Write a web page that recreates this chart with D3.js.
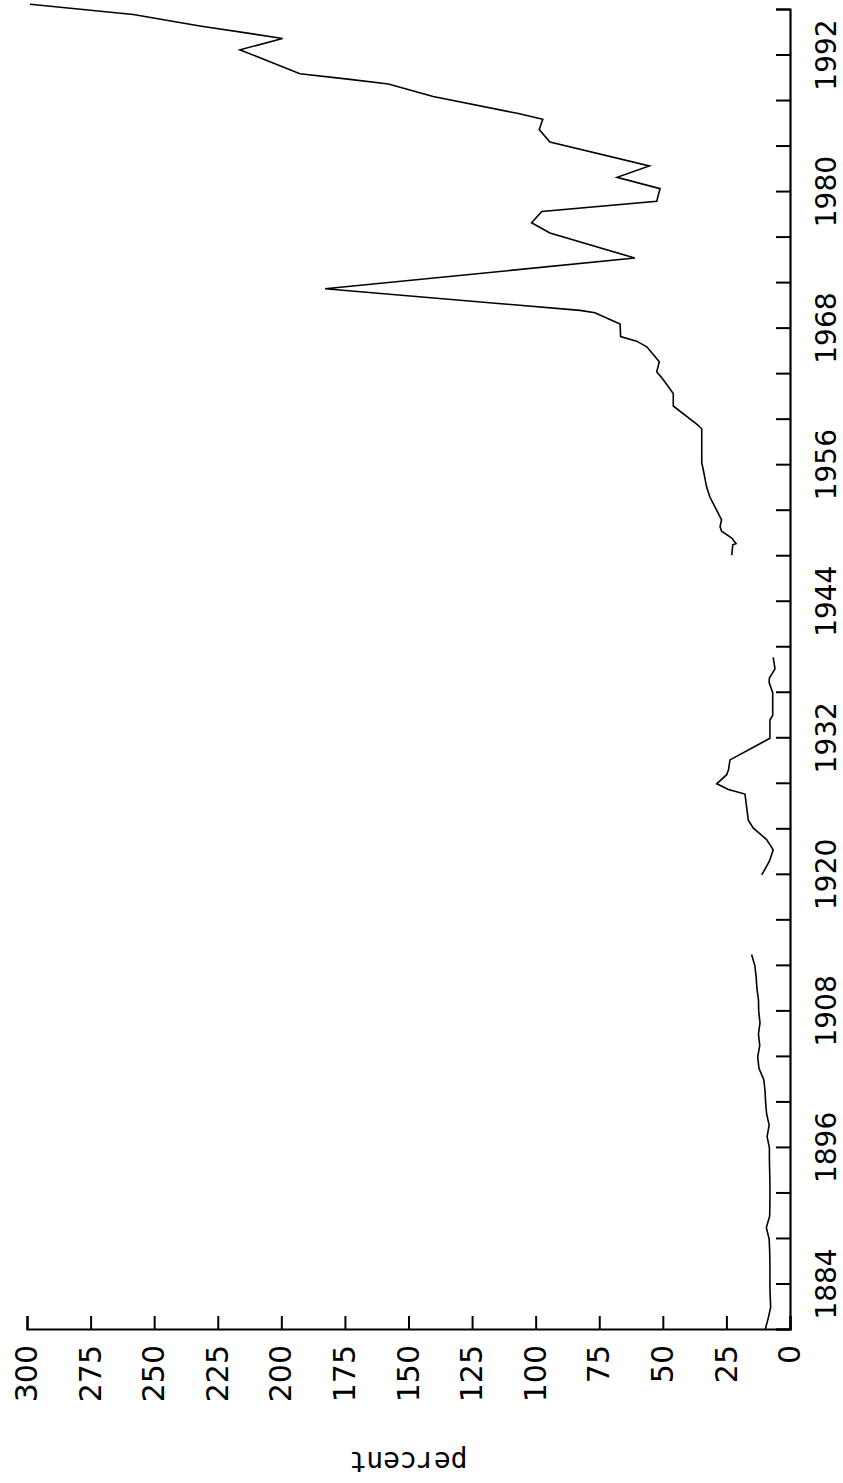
<!DOCTYPE html>
<html>
<head>
<meta charset="utf-8">
<script src="https://cdn.jsdelivr.net/npm/d3@7"></script>
<style>
  html, body { margin: 0; padding: 0; background: #fff; }
  svg { display: block; }
</style>
</head>
<body>
<div id="chart"></div>
<script>
// percent by year (null = gap in the record)
const years = [
  1880, 1881, 1882, 1883, 1884, 1885, 1886, 1887, 1888, 1889,
  1890, 1891, 1892, 1893, 1894, 1895, 1896, 1897, 1898, 1899,
  1900, 1901, 1902, 1903, 1904, 1905, 1906, 1907, 1908, 1909,
  1910, 1911, 1912, 1913,
  1916,
  1920.0, 1921.2, 1922.2, 1923.1, 1924.1, 1924.8, 1927.1, 1927.5, 1928.0, 1928.8,
  1929.2, 1930.1, 1932.0, 1933.6, 1934.0, 1936.0, 1936.9, 1937.3, 1938.1, 1939.1,
  1944,
  1948.1, 1949.0, 1949.1, 1949.6, 1950.2, 1950.6, 1951.2, 1953.2, 1954.1, 1955.6,
  1956.2, 1959.2, 1959.6, 1961.2, 1962.3, 1963.5, 1964.2, 1965.1, 1966.4, 1966.9,
  1967.3, 1968.4, 1968.8, 1969.4, 1969.6, 1971.5, 1974.2, 1976.4, 1977.3, 1978.3,
  1979.2, 1980.3, 1981.3, 1982.3, 1984.4, 1985.5, 1986.4, 1986.9, 1988.4, 1989.5,
  1989.9, 1990.4, 1992.5, 1993.5, 1994.6, 1995.6, 1996.5
];
const percent = [
  9.8, 8.6, 7.6, 7.8, 7.9, 7.9, 7.9, 8.0, 8.2, 9.3,
  8.0, 7.9, 7.9, 7.9, 8.0, 8.1, 8.1, 9.0, 8.2, 9.2,
  9.6, 9.8, 10.3, 12.2, 12.7, 11.9, 12.4, 11.8, 12.3, 12.4,
  13.0, 13.3, 13.8, 15.1,
  null,
  11.1, 8.1, 6.6, 9.2, 14.4, 16.4, 17.7, 24.2, 28.8, 24.9,
  24.2, 23.6, 7.9, 7.9, 6.8, 6.8, 8.2, 8.1, 5.9, 6.6,
  null,
  22.9, 22.5, 21.2, 22.9, 26.9, 27.5, 26.9, 31.5, 32.8, 34.1,
  34.7, 34.7, 36.7, 45.9, 45.9, 49.8, 52.4, 51.4, 56.3, 60.3,
  66.6, 66.8, 70.8, 76.7, 82.6, 182.8, 61.0, 94.4, 101.6, 97.6,
  52.4, 51.1, 68.0, 55.3, 94.4, 98.6, 97.2, 106.8, 140.3, 157.9,
  173.0, 192.7, 216.3, 199.5, 232.0, 258.2, 298.8
];

// axis ticks
const yearTicks = d3.range(1880, 1997, 4);
const yearLabels = d3.range(1884, 1993, 12);
const pctTicks = d3.range(0, 301, 25);

// page size; the chart is drawn in its own frame, then turned a quarter left
const [pageW, pageH] = [843, 1483];

const svg = d3.select('#chart')
    .append('svg')
    .attr('width', pageW)
    .attr('height', pageH);

const g = svg.append('g')
    .attr('transform', `translate(0 ${pageH}) rotate(-90)`);

const x = d3.scaleLinear().domain([1880, 1996]).range([153, 1473]);
const y = d3.scaleLinear().domain([0, 300]).range([790, 27]);

// year axis
const xAxis = d3.axisBottom(x)
    .tickValues(yearTicks)
    .tickSize(-14)
    .tickPadding(26)
    .tickFormat((d) => yearLabels.includes(d) ? d : '');

const gx = g.append('g')
    .attr('transform', `translate(0 ${y(0)})`)
    .call(xAxis);

// percent axis
const yAxis = d3.axisLeft(y)
    .tickValues(pctTicks)
    .tickSize(-14)
    .tickPadding(15);

const gy = g.append('g')
    .attr('transform', `translate(${x(1880)} 0)`)
    .call(yAxis);

gx.attr('font-size', 28);
gy.attr('font-size', 30);
[gx, gy].forEach((a) => {
    a.attr('font-family', '"DejaVu Sans", sans-serif');
    a.select('.domain').attr('stroke-width', 2.2);
    a.selectAll('.tick line').attr('stroke-width', 2);
    a.selectAll('.tick text').attr('fill', '#000');
});

// axis title
g.append('text')
    .attr('transform', `translate(31 ${(y(0) + y(300)) / 2}) rotate(-90)`)
    .attr('text-anchor', 'middle')
    .attr('font-family', '"DejaVu Sans Mono", monospace')
    .attr('font-size', 28)
    .attr('fill', '#000')
    .text('percent');

// series
const pts = years.map((yr, i) => [yr, percent[i]]);
const line = d3.line()
    .defined((d) => d[1] != null)
    .x((d) => x(d[0]))
    .y((d) => y(d[1]));

g.append('path')
    .datum(pts)
    .attr('d', line)
    .attr('fill', 'none')
    .attr('stroke', '#000')
    .attr('stroke-width', 1.6)
    .attr('stroke-linejoin', 'miter');
</script>
</body>
</html>
